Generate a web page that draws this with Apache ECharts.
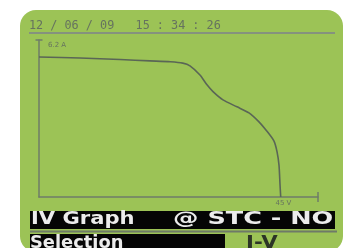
<!DOCTYPE html>
<html><head><meta charset="utf-8">
<script src="https://cdn.jsdelivr.net/npm/echarts@6/dist/echarts.min.js"></script>
<style>html,body{margin:0;padding:0;background:#fff;overflow:hidden}#c{width:350px;height:248px}</style>
</head><body><div id="c"></div>
<script>
// I-V curve (volts, amps)
const voltage = [0, 7.64, 15.10, 20.69, 24.50, 26.80, 28.14, 30.00, 31.31, 32.43, 34.29, 36.90, 39.14, 41.00, 42.49, 43.80, 44.36, 44.73, 44.92, 45.05];
const current = [6.24, 6.20, 6.13, 6.07, 6.03, 5.97, 5.85, 5.44, 5.00, 4.70, 4.33, 4.02, 3.75, 3.35, 2.93, 2.49, 2.02, 1.42, 0.56, 0];
const xMax = 52, yMax = 7;
const xTickValue = 45, xTickLabel = '45 V';
const yTickLabel = '6.2 A';
const dateText = '12 / 06 / 09   15 : 34 : 26';
const titleLeft = 'IV Graph', titleRight = '@ STC - NO';
const selLabel = 'Selection', selValue = 'I-V';

const chart = echarts.init(document.getElementById('c'), null, {renderer: 'canvas'});
const axisCol = '#6f7c69';
const option = {
  backgroundColor: '#ffffff',
  animation: false,
  grid: {left: 39, right: 32, top: 40, bottom: 51},
  xAxis: {
    type: 'value', min: 0, max: xMax,
    axisLine: {lineStyle: {color: axisCol, width: 1.5}, symbol: ['none', 'rect'], symbolSize: [10, 1.5]},
    axisTick: {show: false}, axisLabel: {show: false}, splitLine: {show: false}
  },
  yAxis: {
    type: 'value', min: 0, max: yMax,
    axisLine: {show: true, lineStyle: {color: axisCol, width: 1.5}, symbol: ['none', 'rect'], symbolSize: [7, 1.5]},
    axisTick: {show: false}, axisLabel: {show: false}, splitLine: {show: false}
  },
  series: [{
    type: 'line', smooth: 0.25, symbol: 'none',
    data: voltage.map((v, i) => [v, current[i]]),
    lineStyle: {color: '#5a6656', width: 1.6}, z: 5
  }]
};
chart.setOption(option);

const pX = chart.convertToPixel({gridIndex: 0}, [xTickValue, 0]);
const pY = chart.convertToPixel({gridIndex: 0}, [0, yMax]);
const barFont = 'bold 17px "DejaVu Sans"';
chart.setOption({
  graphic: [
    {type: 'rect', z: -10, shape: {x: 20, y: 10, width: 323, height: 242, r: 16}, style: {fill: '#9cc356'}},
    {type: 'text', z: 10, x: 29, y: 32, style: {text: dateText, font: '11.8px "DejaVu Sans Mono"', fill: '#66735f', textVerticalAlign: 'bottom'}},
    {type: 'line', z: 10, shape: {x1: 29, y1: 33, x2: 335, y2: 33}, style: {stroke: '#85927e', lineWidth: 2}},
    {type: 'text', z: 10, x: pY[0] + 9, y: pY[1] + 5, style: {text: yTickLabel, font: '7px "DejaVu Sans"', fill: '#66735f', textVerticalAlign: 'middle'}},
    {type: 'text', z: 10, x: pX[0] + 3, y: pX[1] + 3, style: {text: xTickLabel, font: '7px "DejaVu Sans"', fill: '#66735f', textAlign: 'center', textVerticalAlign: 'top'}},
    {type: 'rect', z: 10, shape: {x: 30, y: 211, width: 305, height: 18}, style: {fill: '#050505'}},
    {type: 'line', z: 10, shape: {x1: 30, y1: 231.5, x2: 337, y2: 231.5}, style: {stroke: '#6e7a68', lineWidth: 2}},
    {type: 'rect', z: 10, shape: {x: 30, y: 234, width: 195, height: 20}, style: {fill: '#050505'}},
    {type: 'text', z: 11, x: 31, y: 228, scaleX: 1.24, style: {text: titleLeft, font: barFont, fill: '#ececec', textVerticalAlign: 'bottom'}},
    {type: 'text', z: 11, x: 173, y: 228, scaleX: 1.5, style: {text: titleRight, font: barFont, fill: '#ececec', textVerticalAlign: 'bottom'}},
    {type: 'text', z: 11, x: 30, y: 252, scaleX: 1.05, style: {text: selLabel, font: barFont, fill: '#ececec', textVerticalAlign: 'bottom'}},
    {type: 'text', z: 11, x: 246, y: 252, scaleX: 1.25, style: {text: selValue, font: barFont, fill: '#2c3526', textVerticalAlign: 'bottom'}}
  ]
});
</script>
</body></html>
